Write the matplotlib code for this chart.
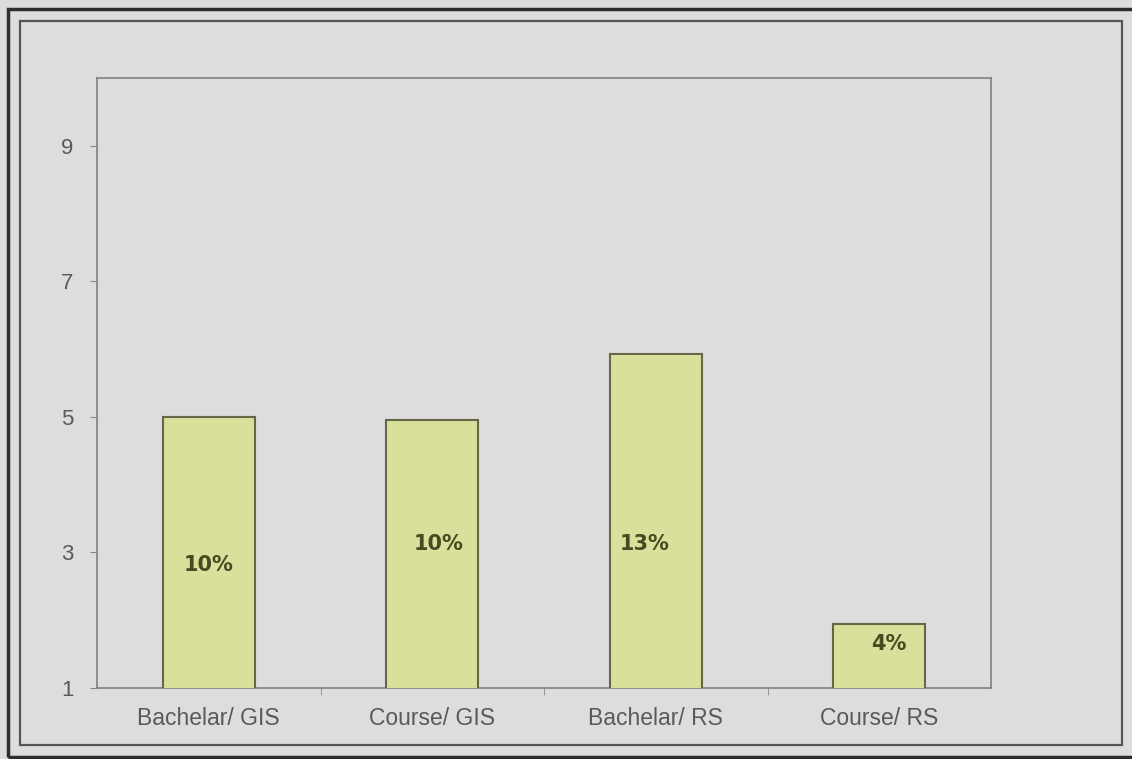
import matplotlib.pyplot as plt
from matplotlib.patches import Rectangle

categories = ["Bachelar/ GIS", "Course/ GIS", "Bachelar/ RS", "Course/ RS"]
values = [5.0, 4.95, 5.93, 1.94]
labels = ["10%", "10%", "13%", "4%"]
label_y = [2.81, 3.12, 3.12, 1.65]
label_dx = [0.0, 0.03, -0.05, 0.045]

bg = "#dcdddc"
fig = plt.figure(figsize=(11.32, 7.59), dpi=100, facecolor=bg)
W, H = 1132, 759

# outer and inner frames
fig.patches.append(Rectangle((8 / W, 1 - 757 / H), 1.2, (757 - 9) / H, transform=fig.transFigure,
                             fill=False, edgecolor="#2e2e2e", linewidth=2.5))
fig.patches.append(Rectangle((20 / W, 1 - 745 / H), (1122 - 20) / W, (745 - 21) / H,
                             transform=fig.transFigure, fill=False, edgecolor="#555555", linewidth=1.6))

ax = fig.add_axes([97 / W, 1 - 688 / H, (991 - 97) / W, (688 - 78) / H])
ax.set_facecolor(bg)

x = range(len(categories))
ax.bar(x, values, bottom=0, width=0.41, color="#d9e09c", edgecolor="#66664a", linewidth=1.5, zorder=3)

for i, (lab, ly) in enumerate(zip(labels, label_y)):
    ax.text(i + label_dx[i], ly, lab, ha="center", va="center", fontsize=15,
            fontweight="bold", color="#4a4a22", family="DejaVu Sans", zorder=4)

ax.set_xlim(-0.5, 3.5)
ax.set_ylim(1, 10)
ax.set_yticks([1, 3, 5, 7, 9])
ax.set_xticks([0, 1, 2, 3])
ax.set_xticklabels(categories)
ax.set_xticks([0.5, 1.5, 2.5], minor=True)
ax.tick_params(axis="x", which="major", length=0, pad=14, labelsize=16.5, labelcolor="#5a5a5a")
ax.tick_params(axis="x", which="minor", length=5, color="#888888")
ax.tick_params(axis="y", length=5, color="#888888", pad=12, labelsize=16, labelcolor="#5a5a5a")
for lab in ax.get_xticklabels() + ax.get_yticklabels():
    lab.set_family("Liberation Sans")

for s in ax.spines.values():
    s.set_color("#808080")
    s.set_linewidth(1.2)

fig.savefig("out.png", dpi=100, facecolor=bg)
